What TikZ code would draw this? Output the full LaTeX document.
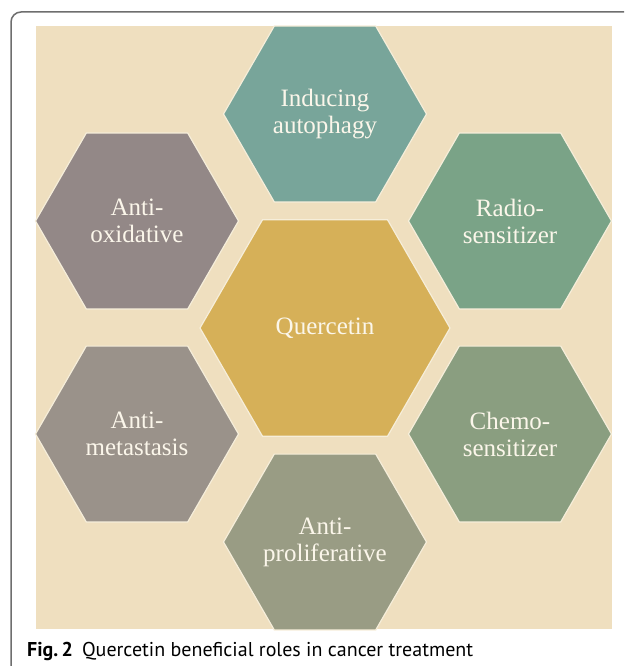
\documentclass[tikz,border=0pt]{standalone}
\usepackage{fontspec}
\setmainfont{Liberation Serif}
\newfontfamily\capfont{PT Sans}
\usepackage{tikz}
\usetikzlibrary{shapes.geometric,positioning,calc}

\definecolor{bgbeige}{HTML}{EFDFBF}
\definecolor{framegray}{HTML}{6E6E6E}
\definecolor{hexline}{HTML}{F6EEDA}
\definecolor{hextext}{HTML}{FBF6EA}
\definecolor{querc}{HTML}{D6B058}
\definecolor{autoph}{HTML}{78A59A}
\definecolor{radio}{HTML}{7AA387}
\definecolor{chemo}{HTML}{8A9E80}
\definecolor{prolif}{HTML}{999C84}
\definecolor{metast}{HTML}{9A928A}
\definecolor{oxid}{HTML}{938887}

\tikzset{
    %Define style for hexagons
    hexa/.style={
           regular polygon,
           regular polygon sides=6,
           minimum size=203pt,
           inner sep=0pt,
           outer sep=0pt,
           draw=hexline,
           line width=1.2pt,
           text=hextext,
           align=center,
           font=\fontsize{25}{27}\selectfont},
    % Define style for caption
    captext/.style={
           anchor=base west,
           inner sep=0pt,
           font=\capfont\fontsize{20}{22}\selectfont}
}

\begin{document}
\begin{tikzpicture}[x=1pt,y=-1pt]
	\useasboundingbox (0,0) rectangle (624,666);
	\clip (0,0) rectangle (624,666);

	% Frame and background
	\fill[white] (0,0) rectangle (624,666);
	\draw[framegray, line width=1.5pt, rounded corners=10pt] (11,12) rectangle (680,700);
	\fill[bgbeige] (36,26) rectangle (612,629);

	% Hexagons
	\node[hexa, fill=querc, minimum size=250pt](querc) at (325,328){Quercetin};
	\node[hexa, fill=autoph](autoph) at (325,114){Inducing\\autophagy};
	\node[hexa, fill=radio](radio) at (510,221){Radio-\\sensitizer};
	\node[hexa, fill=chemo](chemo) at (510,434){Chemo-\\sensitizer};
	\node[hexa, fill=prolif](prolif) at (325,542){Anti-\\proliferative};
	\node[hexa, fill=metast](metast) at (137,434){Anti-\\metastasis};
	\node[hexa, fill=oxid](oxid) at (137,221){Anti-\\oxidative};

	% Caption
	\node[captext](caption) at (27,656){\textbf{Fig.\,2}\hspace{0.45em}Quercetin beneficial roles in cancer treatment};
\end{tikzpicture}
\end{document}
